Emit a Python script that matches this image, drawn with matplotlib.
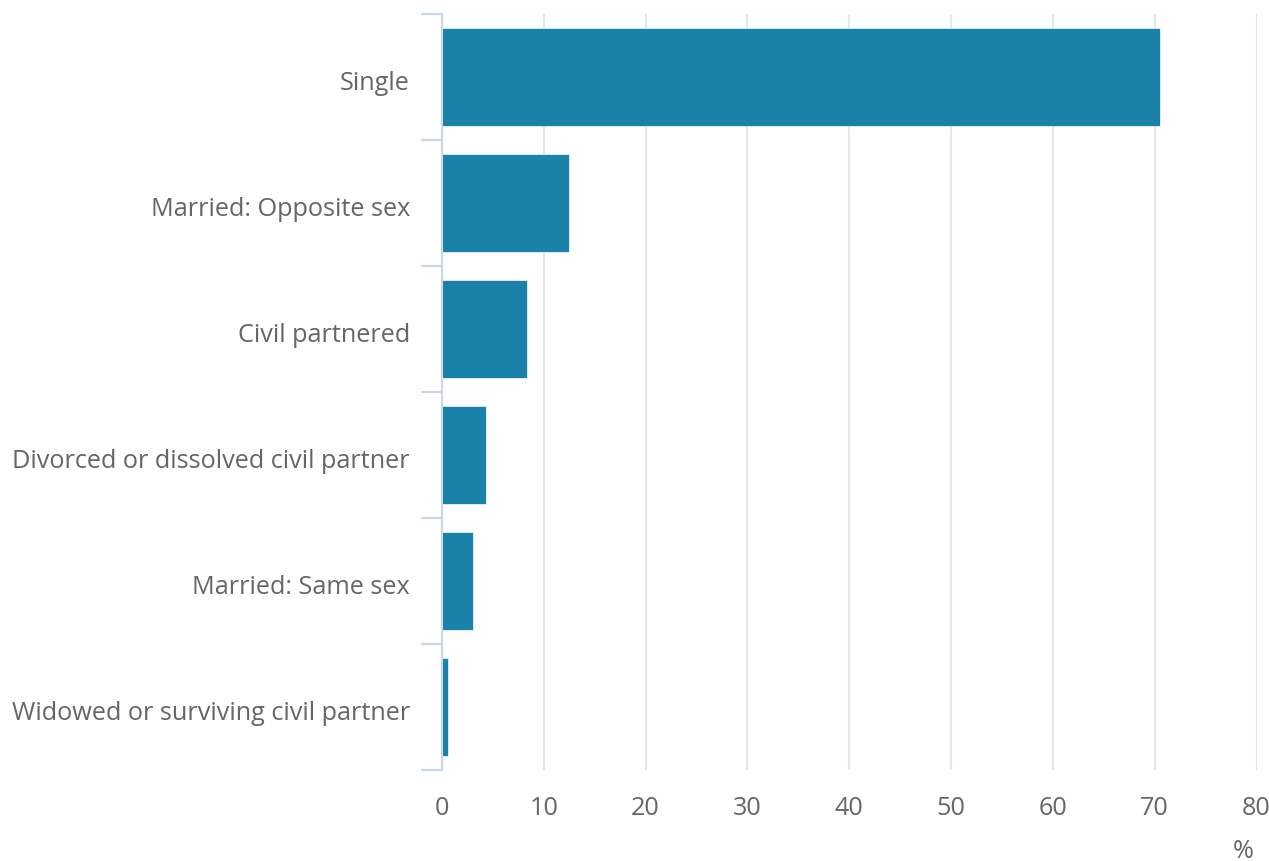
import matplotlib
matplotlib.use("Agg")
import matplotlib.pyplot as plt
import matplotlib.transforms as mtransforms
from matplotlib.ticker import FixedLocator

categories = ["Single", "Married: Opposite sex", "Civil partnered",
              "Divorced or dissolved civil partner", "Married: Same sex",
              "Widowed or surviving civil partner"]
values = [70.5, 12.5, 8.3, 4.3, 3.0, 0.55]
xticks = [0, 10, 20, 30, 40, 50, 60, 70, 80]

plt.rcParams['font.family'] = ['Open Sans', 'DejaVu Sans']

W, H = 1269, 861
fig = plt.figure(figsize=(W/100, H/100), dpi=100)
ax = fig.add_axes([442/W, 1-770/H, (1256.5-442)/W, (770-14)/H])

n = len(categories)
ypos = list(range(n))
ax.barh(ypos, values, height=0.78, color="#1a82a8", edgecolor="#e8f2f7",
        linewidth=0.6, zorder=3)
ax.set_ylim(n-0.5, -0.5)
ax.set_xlim(0, 80)

ax.set_yticks(ypos)
ax.set_yticklabels(categories)
ax.yaxis.set_minor_locator(FixedLocator([i-0.5 for i in range(n+1)]))
ax.tick_params(axis='y', which='major', length=0, pad=23, labelsize=18.2,
               labelcolor='#666666')
ax.tick_params(axis='y', which='minor', length=15, width=1.5, color='#ccd6eb')
offset = mtransforms.ScaledTranslation(0, -3/100, fig.dpi_scale_trans)
for lbl in ax.get_yticklabels():
    lbl.set_transform(lbl.get_transform() + offset)

ax.set_xticks(xticks)
ax.set_xticklabels([str(t) for t in xticks])
ax.tick_params(axis='x', length=0, pad=19, labelsize=18.2, labelcolor='#666666')
ax.grid(axis='x', color='#e6e6e6', linewidth=1.5, zorder=0)
ax.set_axisbelow(True)

for s in ['top', 'right', 'bottom']:
    ax.spines[s].set_visible(False)
ax.spines['left'].set_color('#ccd6eb')
ax.spines['left'].set_linewidth(1.5)
ax.spines['left'].set_zorder(4)

fig.text(1243/W, 1-851/H, "%", ha='center', va='center', fontsize=18.2,
         color='#666666')

fig.savefig("out.png", dpi=100)
